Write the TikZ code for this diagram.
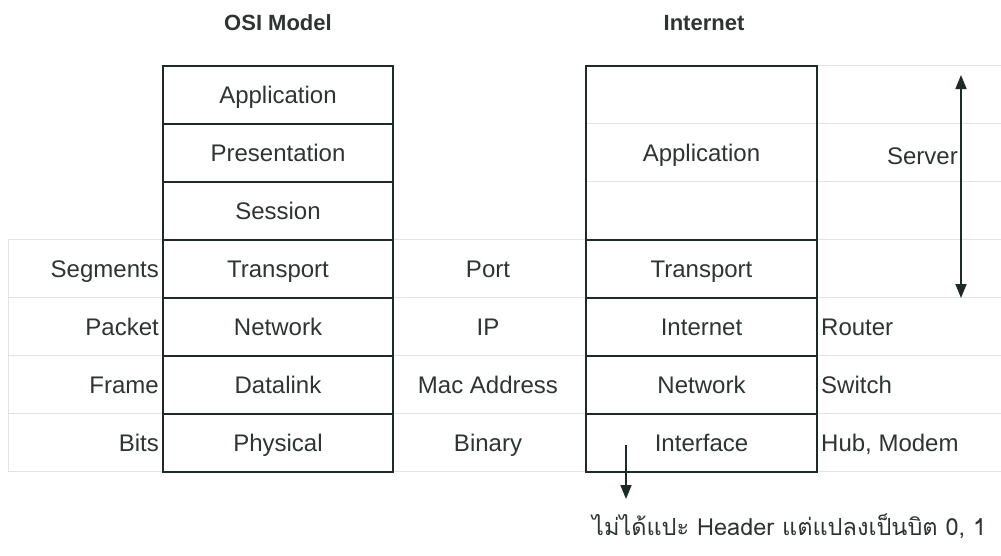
\documentclass[tikz,border=0pt]{standalone}
\usepackage{fontspec}
\setmainfont{Liberation Sans}
\newfontfamily\thaifont[Script=Thai]{Loma}
\usetikzlibrary{arrows.meta}
\definecolor{ink}{HTML}{1E2A28}
\definecolor{txt}{HTML}{2E3433}
\definecolor{faint}{HTML}{E2E4E4}
\tikzset{
  layer/.style={draw=ink, line width=2.4pt, inner sep=0pt, minimum width=230pt, minimum height=58pt,
                font=\fontsize{24}{28}\selectfont, text=txt, text height=17.5pt, text depth=0pt},
  ilayer/.style={layer, minimum width=231pt},
  lbl/.style={inner sep=0pt, font=\fontsize{24}{28}\selectfont, text=txt, text height=17.5pt, text depth=0pt},
  ttl/.style={inner sep=0pt, font=\fontsize{22}{26}\selectfont\bfseries, text=txt, text height=16pt, text depth=0pt},
  grid/.style={draw=faint, line width=1pt},
  arr/.style={draw=ink, line width=1.6pt, -{Triangle[length=14pt,width=11pt]}},
  darr/.style={draw=ink, line width=1.6pt, {Triangle[length=14pt,width=11pt]}-{Triangle[length=14pt,width=11pt]}}
}
\begin{document}
\begin{tikzpicture}[x=1pt,y=-1pt]
\useasboundingbox (0,0) rectangle (1001,555);
% faint table grid
\draw[grid] (8,239) -- (1001,239);
\draw[grid] (8,297) -- (1001,297);
\draw[grid] (8,355) -- (1001,355);
\draw[grid] (8,413) -- (1001,413);
\draw[grid] (8,471) -- (1001,471);
\draw[grid] (8,239) -- (8,471);
\draw[grid] (817,65) -- (1001,65);
\draw[grid] (586,123) -- (1001,123);
\draw[grid] (586,181) -- (1001,181);
% titles
\node[ttl] (t1) at (278,22) {OSI Model};
\node[ttl] (t2) at (704,22) {Internet};
% OSI stack
\node[layer] (app)  at (278,95)  {Application};
\node[layer] (pres) at (278,153) {Presentation};
\node[layer] (ses)  at (278,211) {Session};
\node[layer] (tra)  at (278,269) {Transport};
\node[layer] (net)  at (278,327) {Network};
\node[layer] (dl)   at (278,385) {Datalink};
\node[layer] (phy)  at (278,443) {Physical};
% Internet stack
\node[ilayer, minimum height=174pt] (iapp) at (701.5,153) {Application};
\node[ilayer] (itra) at (701.5,269) {Transport};
\node[ilayer] (iint) at (701.5,327) {Internet};
\node[ilayer] (inet) at (701.5,385) {Network};
\node[ilayer] (iif)  at (701.5,443) {Interface};
% left labels
\node[lbl, anchor=east] (l1) at (159,269) {Segments};
\node[lbl, anchor=east] (l2) at (159,327) {Packet};
\node[lbl, anchor=east] (l3) at (159,385) {Frame};
\node[lbl, anchor=east] (l4) at (159,443) {Bits};
% middle labels
\node[lbl] (m1) at (488,269) {Port};
\node[lbl] (m2) at (488,327) {IP};
\node[lbl] (m3) at (488,385) {Mac Address};
\node[lbl] (m4) at (488,443) {Binary};
% right labels
\node[lbl, anchor=west] (r1) at (821,327) {Router};
\node[lbl, anchor=west] (r2) at (821,385) {Switch};
\node[lbl, anchor=west] (r3) at (821,443) {Hub, Modem};
\node[lbl, anchor=east] (srv) at (958,156) {Server};
% server arrow
\coordinate (st) at (961,75);
\coordinate (sb) at (961,298);
\draw[darr] (st) -- (sb);
% note
\node[inner sep=0pt, anchor=west, text=txt, font=\thaifont\fontsize{23.5}{28}\selectfont] (note) at (592,526) {ไม่ได้แปะ Header แต่แปลงเป็นบิต 0, 1};
\coordinate (a1) at (626,445);
\coordinate (a2) at (626,499);
\draw[arr] (a1) -- (a2);
\end{tikzpicture}
\end{document}
